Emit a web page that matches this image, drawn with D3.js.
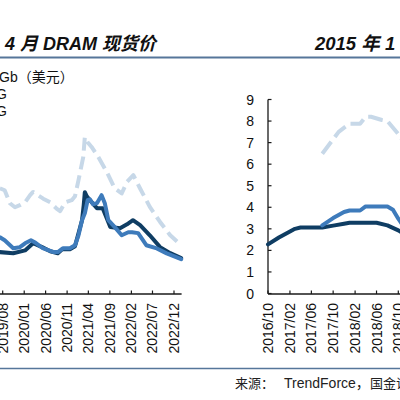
<!DOCTYPE html>
<html><head><meta charset="utf-8">
<script src="https://cdn.jsdelivr.net/npm/d3@7"></script>
<style>
html,body{margin:0;padding:0;background:#fff;}
svg{display:block;}
text{font-family:"Liberation Sans","Noto Sans CJK SC",Arial,sans-serif;}
</style></head><body>
<svg id="c" width="400" height="400"></svg>
<script>
// ---------- data ----------
const titleLeft = "4 月 DRAM 现货价";
const titleRight = "2015 年 1";
const legendLabels = ["Gb（美元）", "G", "G"];
const sourceLabel = ["来源：", "TrendForce，", "国金证券研究所"];

const leftTicks = ["2019/03","2019/08","2020/01","2020/06","2020/11","2021/04","2021/09","2022/02","2022/07","2022/12"];
const rightTicks = ["2016/10","2017/02","2017/06","2017/10","2018/02","2018/06","2018/10","2019/02","2019/06"];
const yTicks = [0,1,2,3,4,5,6,7,8,9];

// left chart series (spot prices)
const leftDarkDates = ["2019-07-12","2019-10-15","2020-01-07","2020-03-04","2020-05-07","2020-07-04","2020-08-27","2020-09-27","2020-11-21","2020-12-27","2021-01-21","2021-02-15","2021-02-27","2021-03-07","2021-03-21","2021-04-12","2021-06-01","2021-07-12","2021-09-04","2021-11-12","2022-01-01","2022-02-12","2022-04-04","2022-06-12","2022-08-24","2022-11-04","2023-01-21"];
const leftDarkValues = [1.92,1.87,2.0,2.33,2.15,1.96,1.87,2.05,2.05,2.19,2.8,3.4,4.1,4.7,4.51,4.33,3.96,3.96,3.08,3.03,3.21,3.4,3.17,2.7,2.15,1.87,1.64];

const leftMidDates = ["2019-07-12","2019-08-15","2019-10-15","2019-12-01","2020-01-07","2020-02-18","2020-03-15","2020-05-12","2020-07-23","2020-08-27","2020-10-04","2020-11-21","2020-12-27","2021-01-21","2021-02-15","2021-03-07","2021-03-27","2021-04-12","2021-05-04","2021-06-01","2021-07-04","2021-07-27","2021-08-21","2021-10-06","2021-11-24","2022-01-10","2022-02-06","2022-03-21","2022-05-18","2022-08-01","2022-10-10","2023-01-21"];
const leftMidValues = [2.61,2.47,2.1,2.15,2.33,2.47,2.38,2.1,1.93,1.92,2.1,2.1,2.24,2.7,3.4,3.72,4.33,4.37,4.14,4.19,4.56,4.19,3.4,3.08,2.7,2.84,2.84,2.8,2.24,2.09,1.86,1.59];

const leftLightDates = ["2019-07-12","2019-08-15","2019-09-21","2019-10-27","2019-12-01","2020-01-07","2020-02-12","2020-03-04","2020-05-15","2020-07-04","2020-08-18","2020-09-12","2020-10-18","2020-12-04","2020-12-27","2021-01-21","2021-02-24","2021-03-07","2021-03-27","2021-04-24","2021-06-10","2021-08-10","2021-10-06","2021-11-24","2022-01-01","2022-02-15","2022-04-04","2022-06-12","2022-08-24","2022-11-04","2023-01-12"];
const leftLightValues = [4.88,4.79,4.19,4.0,4.1,4.23,4.56,4.71,4.4,4.23,3.94,3.82,4.23,4.33,4.51,5.26,6.34,7.26,7.02,6.8,6.34,5.64,4.87,4.64,5.18,5.49,4.87,4.02,3.32,2.7,2.29];

// right chart series (contract prices)
const rightDarkDates = ["2016-10-01","2016-12-01","2017-02-01","2017-03-01","2017-04-01","2017-08-01","2017-10-01","2017-12-01","2018-01-01","2018-06-01","2018-08-01","2018-10-01","2018-12-01"];
const rightDarkValues = [2.28,2.6,2.88,3.0,3.06,3.06,3.15,3.24,3.28,3.28,3.16,2.93,2.6];
const rightMidDates = ["2017-08-01","2017-10-01","2017-12-01","2018-01-01","2018-03-01","2018-04-01","2018-08-01","2018-09-01","2018-10-01","2018-11-01"];
const rightMidValues = [3.16,3.5,3.78,3.85,3.85,4.04,4.04,3.89,3.47,3.1];
const rightLightDates = ["2017-08-01","2017-11-01","2018-01-01","2018-03-01","2018-04-01","2018-05-01","2018-07-01","2018-08-01","2018-10-01","2018-11-01"];
const rightLightValues = [6.48,7.5,7.88,7.88,8.2,8.2,8.05,8.0,7.4,7.0];

// ---------- drawing ----------
const C = {dark:"#0f3d63", mid:"#3e7bbb", light:"#c7d8e8", rule:"#56769a", axis:"#1a1a1a"};
const svg = d3.select("#c");
const pd = d3.timeParse("%Y-%m-%d");
const pm = d3.timeParse("%Y/%m");

// titles and rules
svg.append("text").attr("x",5).attr("y",50).attr("font-size",18).attr("font-weight","bold").attr("font-style","italic").attr("fill","#111").text(titleLeft);
svg.append("text").attr("x",315).attr("y",50).attr("font-size",18.5).attr("font-weight","bold").attr("font-style","italic").attr("fill","#111").text(titleRight);
svg.append("line").attr("x1",0).attr("x2",400).attr("y1",57.5).attr("y2",57.5).attr("stroke",C.rule).attr("stroke-width",1.8);
svg.append("line").attr("x1",0).attr("x2",400).attr("y1",368.5).attr("y2",368.5).attr("stroke",C.rule).attr("stroke-width",1.4);

// legend fragments
const legX = [-1,-4,-4], legY = [82,99,116];
legendLabels.forEach((t,i)=>{
  svg.append("text").attr("x",legX[i]).attr("y",legY[i]).attr("font-size",14).attr("fill","#111").text(t);
});

// source
const srcX = [235, 284, 370];
sourceLabel.forEach((t,i)=>{
  svg.append("text").attr("x",srcX[i]).attr("y",388).attr("font-size",i===1?14:13).attr("fill","#222").text(t);
});

const y = d3.scaleLinear().domain([0,9]).range([293.5,99.5]);

function series(g, x, dates, values, color, dash){
  const data = dates.map((d,i)=>({d:pd(d), v:values[i]}));
  const p = g.append("path").datum(data)
    .attr("fill","none").attr("stroke",color).attr("stroke-width",4)
    .attr("stroke-linejoin","round").attr("stroke-linecap", dash ? "butt" : "round")
    .attr("d", d3.line().x(o=>x(o.d)).y(o=>y(o.v)));
  if (dash) p.attr("stroke-dasharray", dash);
}

function xAxis(g, x, ticks, y0, endDate, startX){
  const ax = g.append("g").attr("transform",`translate(0,${y0})`);
  ax.append("line").attr("x1",startX).attr("x2",x(pd(endDate))).attr("y1",0).attr("y2",0).attr("stroke",C.axis).attr("stroke-width",1.3);
  ticks.forEach(t=>{
    const xx = x(pm(t));
    ax.append("line").attr("x1",xx).attr("x2",xx).attr("y1",0).attr("y2",-3.5).attr("stroke",C.axis).attr("stroke-width",1.2);
    ax.append("text").attr("transform",`translate(${xx+5},${9}) rotate(-90)`)
      .attr("text-anchor","end").attr("font-size",14).attr("fill","#111").text(t);
  });
}

// left chart
const xL = d3.scaleTime().domain([pm("2019/08"), pm("2022/12")]).range([2.7,174]);
const gL = svg.append("g");
series(gL, xL, leftLightDates, leftLightValues, C.light, "13,6");
series(gL, xL, leftDarkDates, leftDarkValues, C.dark, null);
series(gL, xL, leftMidDates, leftMidValues, C.mid, null);
xAxis(gL, xL, leftTicks, 294, "2023-01-24", -5);

// right chart
const xR = d3.scaleTime().domain([pm("2016/10"), pm("2018/10")]).range([268,398.3]);
const gR = svg.append("g");
const yAx = gR.append("g");
yAx.append("line").attr("x1",268).attr("x2",268).attr("y1",y(9)).attr("y2",y(0)).attr("stroke",C.axis).attr("stroke-width",1.3);
yTicks.forEach(v=>{
  yAx.append("line").attr("x1",268).attr("x2",271.5).attr("y1",y(v)).attr("y2",y(v)).attr("stroke",C.axis).attr("stroke-width",1.2);
  yAx.append("text").attr("x",254).attr("y",y(v)+5).attr("text-anchor","end").attr("font-size",14).attr("fill","#111").text(v);
});
series(gR, xR, rightLightDates, rightLightValues, C.light, "15,6");
series(gR, xR, rightDarkDates, rightDarkValues, C.dark, null);
series(gR, xR, rightMidDates, rightMidValues, C.mid, null);
xAxis(gR, xR, rightTicks, 294, "2019-08-01", 268);
</script>
</body></html>
